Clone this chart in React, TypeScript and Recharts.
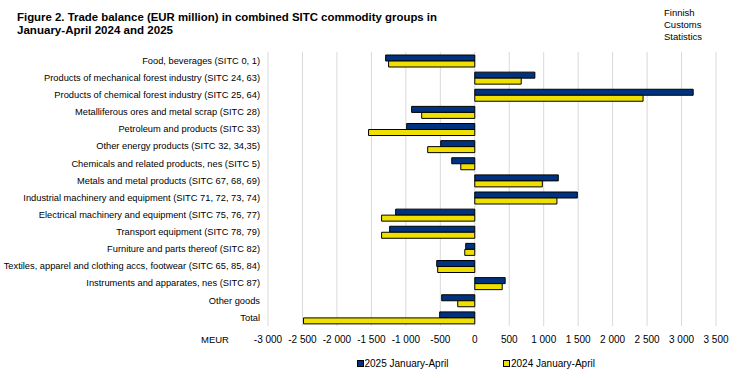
import React from "react";
import { BarChart, Bar, XAxis, YAxis, CartesianGrid } from "recharts";

const categories = [
  "Food, beverages (SITC 0, 1)",
  "Products of mechanical forest industry (SITC 24, 63)",
  "Products of chemical forest industry (SITC 25, 64)",
  "Metalliferous ores and metal scrap (SITC 28)",
  "Petroleum and products (SITC 33)",
  "Other energy products (SITC 32, 34,35)",
  "Chemicals and related products, nes (SITC 5)",
  "Metals and metal products (SITC 67, 68, 69)",
  "Industrial machinery and equipment (SITC 71, 72, 73, 74)",
  "Electrical machinery and equipment (SITC 75, 76, 77)",
  "Transport equipment (SITC 78, 79)",
  "Furniture and parts thereof (SITC 82)",
  "Textiles, apparel and clothing accs, footwear (SITC 65, 85, 84)",
  "Instruments and apparates, nes (SITC 87)",
  "Other goods",
  "Total",
];

const values2025 = [-1293, 872, 3169, -916, -988, -494, -334, 1212, 1488, -1148, -1235, -131, -552, 441, -480, -509];
const values2024 = [-1250, 674, 2442, -770, -1541, -683, -203, 980, 1192, -1352, -1352, -145, -538, 398, -247, -2485];

const xTicks = [-3000, -2500, -2000, -1500, -1000, -500, 0, 500, 1000, 1500, 2000, 2500, 3000, 3500];

const seriesNames = ["2025 January-April", "2024 January-April"];
const BLUE = "#00337f";
const YELLOW = "#f0e000";
const FONT = "'Liberation Sans', Arial, sans-serif";

const data = categories.map((name, i) => ({ name, v2025: values2025[i], v2024: values2024[i] }));

const fmt = (v: number) => {
  const a = Math.abs(v);
  const s = v < 0 ? "-" : "";
  if (a >= 1000) {
    const th = Math.floor(a / 1000);
    const r = String(a % 1000).padStart(3, "0");
    return `${s}${th} ${r}`;
  }
  return `${s}${a}`;
};

const YTick = (props: any) => {
  const { x, y, payload } = props;
  return (
    <text x={x} y={y} dy="0.35em" textAnchor="end" fontSize={9.3} fill="#000" fontFamily={FONT}>
      {payload.value}
    </text>
  );
};

const XTick = (props: any) => {
  const { x, y, payload } = props;
  return (
    <text x={x} y={y} dy="0.71em" textAnchor="middle" fontSize={10} fill="#000" fontFamily={FONT}>
      {fmt(payload.value)}
    </text>
  );
};

export default function App() {
  return (
    <div style={{ position: "absolute", left: 0, top: 0, width: 737, height: 378, background: "#fff" }}>
      <BarChart
        width={737}
        height={378}
        data={data}
        layout="vertical"
        margin={{ top: 52, right: 21, bottom: 22, left: 0 }}
        barGap={0}
        barCategoryGap={2}
      >
        <CartesianGrid horizontal={false} vertical={true} stroke="#d9d9d9" strokeWidth={1} />
        <XAxis
          type="number"
          domain={[-3000, 3500]}
          ticks={xTicks}
          axisLine={false}
          tickLine={false}
          tickMargin={4}
          height={30}
          interval={0}
          tick={<XTick />}
        />
        <YAxis
          type="category"
          dataKey="name"
          width={268}
          axisLine={false}
          tickLine={false}
          interval={0}
          tick={<YTick />}
        />
        <Bar dataKey="v2025" fill={BLUE} stroke="#000" strokeWidth={1} barSize={6} isAnimationActive={false} />
        <Bar dataKey="v2024" fill={YELLOW} stroke="#000" strokeWidth={1} barSize={6} isAnimationActive={false} />
      </BarChart>
      <svg
        width={737}
        height={378}
        style={{ position: "absolute", left: 0, top: 0, pointerEvents: "none" }}
      >
        <text x={17} y={20.7} fontSize={11.5} fontWeight="bold" fontFamily={FONT} fill="#000" textLength={420} lengthAdjust="spacingAndGlyphs">
          Figure 2. Trade balance (EUR million) in combined SITC commodity groups in
        </text>
        <text x={17} y={34.3} fontSize={11.5} fontWeight="bold" fontFamily={FONT} fill="#000" textLength={156} lengthAdjust="spacingAndGlyphs">
          January-April 2024 and 2025
        </text>
        <text x={664} y={16} fontSize={9.5} fontFamily={FONT} fill="#000">Finnish</text>
        <text x={664} y={28} fontSize={9.5} fontFamily={FONT} fill="#000">Customs</text>
        <text x={664} y={40} fontSize={9.5} fontFamily={FONT} fill="#000">Statistics</text>
        <text x={201} y={343} fontSize={9.5} fontFamily={FONT} fill="#000">MEUR</text>
      </svg>
      <div
        style={{
          position: "absolute",
          left: 0,
          top: 356,
          width: 737,
          height: 14,
          fontFamily: FONT,
          fontSize: 10,
          color: "#000",
        }}
      >
        {[BLUE, YELLOW].map((c, i) => (
          <div
            key={i}
            style={{
              position: "absolute",
              left: i === 0 ? 356.5 : 503,
              top: 0,
              display: "flex",
              alignItems: "center",
              height: 14,
              whiteSpace: "nowrap",
            }}
          >
            <span
              style={{
                display: "inline-block",
                width: 5,
                height: 5,
                background: c,
                border: "1px solid #000",
                marginRight: 1,
              }}
            />
            <span>{seriesNames[i]}</span>
          </div>
        ))}
      </div>
    </div>
  );
}
